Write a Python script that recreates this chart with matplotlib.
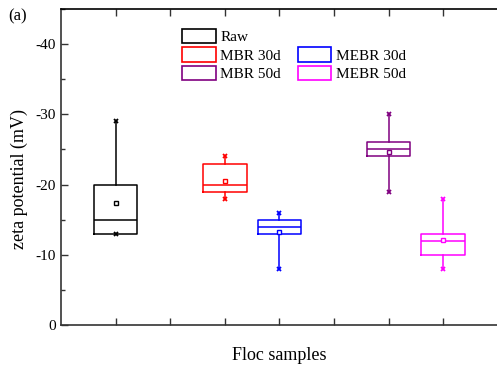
import matplotlib
matplotlib.use("Agg")
from matplotlib import pyplot as plt
from matplotlib.patches import Patch

plt.rcParams['font.family'] = ['Liberation Serif', 'DejaVu Serif']
plt.rcParams['axes.unicode_minus'] = False

# Box statistics (zeta potential, mV)
labels = ['Raw', 'MBR 30d', 'MEBR 30d', 'MBR 50d', 'MEBR 50d']
positions = [1, 3, 4, 6, 7]
colors = ['black', '#ff0000', '#0000ff', '#800080', '#ff00ff']
q1 = [-13, -19, -13, -24, -10]
q3 = [-20, -23, -15, -26, -13]
medians = [-15, -20, -14, -25, -12]
means = [-17.4, -20.5, -13.3, -24.7, -12.1]
mins = [-13, -18, -8, -19, -8]
maxs = [-29, -24, -16, -30, -18]

fig = plt.figure(figsize=(4.97, 3.68), dpi=100)
ax = fig.add_axes([0.1227, 0.1168, 0.879, 0.8587])

for i in range(len(labels)):
    stats = [{'med': medians[i], 'q1': q1[i], 'q3': q3[i],
              'whislo': mins[i], 'whishi': maxs[i], 'mean': means[i],
              'fliers': []}]
    c = colors[i]
    ax.bxp(stats, positions=[positions[i]], widths=0.8, showcaps=False,
           showmeans=True, showfliers=False, manage_ticks=False,
           boxprops=dict(color=c, linewidth=1.1),
           medianprops=dict(color=c, linewidth=1.1),
           whiskerprops=dict(color=c, linewidth=1.1),
           meanprops=dict(marker='s', markersize=3.5, markerfacecolor='white',
                          markeredgecolor=c, markeredgewidth=1.0))
    # min / max markers at the whisker ends
    ax.plot([positions[i], positions[i]], [mins[i], maxs[i]], linestyle='none',
            marker='x', markersize=3.5, markeredgewidth=1.3, color=c)

ax.set_xlim(0, 8)
ax.set_ylim(0, -45)
ax.set_xticks(range(1, 8))
ax.set_xticklabels([])
ax.set_yticks([0, -10, -20, -30, -40])
ax.set_yticks([-5, -15, -25, -35, -45], minor=True)
ax.tick_params(axis='both', which='both', direction='in', labelsize=11,
               top=True, width=1.0, color='#333333')
ax.tick_params(axis='both', which='major', length=5)
ax.tick_params(axis='both', which='minor', length=3)
ax.tick_params(axis='x', which='minor', top=False, bottom=False)
for s in ax.spines.values():
    s.set_linewidth(1.2)
    s.set_color('#333333')
ax.spines['top'].set_color('black')
ax.spines['right'].set_visible(False)

ax.set_xlabel('Floc samples', fontsize=13, labelpad=12)
ax.set_ylabel('zeta potential (mV)', fontsize=13)
ax.yaxis.set_label_coords(-0.075, 0.462)
fig.text(0.016, 0.955, '(a)', fontsize=12, va='center', ha='left')

# legend: column-major, one empty slot in column 2
handles = [Patch(facecolor='none', edgecolor=colors[0], linewidth=1.2),
           Patch(facecolor='none', edgecolor=colors[1], linewidth=1.2),
           Patch(facecolor='none', edgecolor=colors[3], linewidth=1.2),
           Patch(facecolor='none', edgecolor='none'),
           Patch(facecolor='none', edgecolor=colors[2], linewidth=1.2),
           Patch(facecolor='none', edgecolor=colors[4], linewidth=1.2)]
leg_labels = [labels[0], labels[1], labels[3], '', labels[2], labels[4]]
fig.legend(handles, leg_labels, ncol=2, frameon=False, fontsize=11,
           loc='upper left', bbox_to_anchor=(182 / 497, 1 - 29 / 368),
           borderpad=0, borderaxespad=0, handlelength=2.2, handleheight=1.05,
           handletextpad=0.3, labelspacing=0.2, columnspacing=1.1)

fig.savefig('out.png', dpi=100)
